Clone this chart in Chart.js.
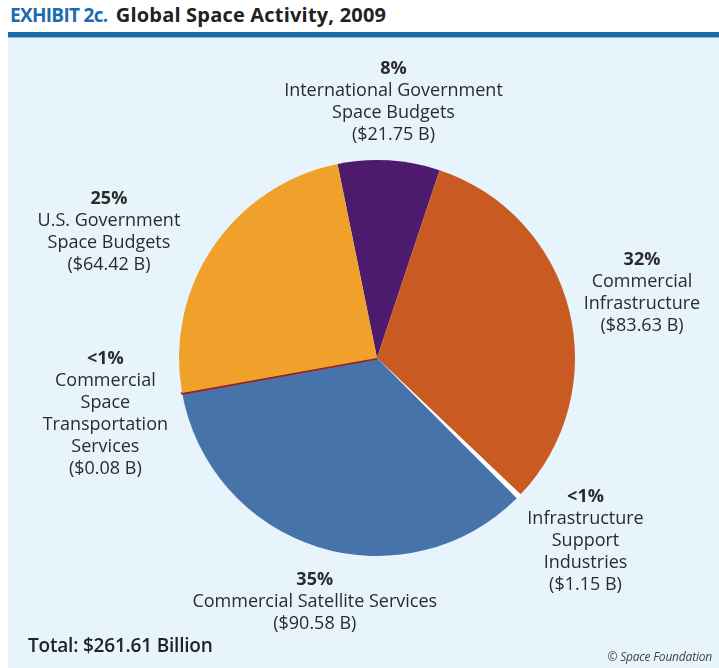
<!DOCTYPE html>
<html>
<head>
<meta charset="utf-8">
<script src="https://cdn.jsdelivr.net/npm/chart.js@4.4.1/dist/chart.umd.min.js"></script>
<style>
  html, body { margin: 0; padding: 0; background: #fff; }
  #wrap { position: relative; width: 719px; height: 668px; overflow: hidden; font-family: "Open Sans", sans-serif; }
  #panel { position: absolute; left: 8px; top: 38px; right: 0; bottom: 0; background: #e8f4fb; }
  #bar { position: absolute; left: 8px; top: 32px; right: 0; height: 5px; background: #1d6aa6; border-bottom: 1px solid #7fc3e6; }
  #title { position: absolute; left: 10px; top: 1px; font-size: 20px; font-weight: bold; color: #222; white-space: nowrap; }
  #title .ex { color: #1a6db3; letter-spacing: -0.7px; font-size: 19px; margin-right: 3px; }
  #title .main { letter-spacing: 0.2px; }
  #total { position: absolute; left: 28px; top: 632px; font-size: 19px; font-weight: 600; color: #222; letter-spacing: -0.2px; }
  #credit { position: absolute; right: 7px; top: 648px; font-size: 12px; font-style: italic; color: #444; letter-spacing: -0.2px; }
  canvas { position: absolute; left: 0; top: 0; }
</style>
</head>
<body>
<div id="wrap">
  <div id="panel"></div>
  <div id="bar"></div>
  <div id="title"><span class="ex">EXHIBIT 2c.</span> <span class="main">Global Space Activity, 2009</span></div>
  <canvas id="spacePie" width="719" height="668"></canvas>
  <div id="total">Total: $261.61 Billion</div>
  <div id="credit">© Space Foundation</div>
</div>
<script>
// segments, clockwise from the top
const segments = ['International Government Space Budgets', 'Commercial Infrastructure', 'Infrastructure Support Industries',
                  'Commercial Satellite Services', 'Commercial Space Transportation Services', 'U.S. Government Space Budgets'];
const billions = [21.75, 83.63, 1.15, 90.58, 0.08, 64.42];
const shares = ['8%', '32%', '<1%', '35%', '<1%', '25%'];
const nameLines = [
    ['International Government', 'Space Budgets'],
    ['Commercial', 'Infrastructure'],
    ['Infrastructure', 'Support', 'Industries'],
    ['Commercial Satellite Services'],
    ['Commercial', 'Space', 'Transportation', 'Services'],
    ['U.S. Government', 'Space Budgets']
];
const colors = ['#4e1a6c', '#c85a22', '#ffffff', '#4673aa', '#a31b1d', '#f0a12b'];

// how far past the rim each label block sits (px) and a small nudge after that
const labelGap = [58, 70, 78, 50, 78, 97];
const labelNudge = [[1, -1], [5, 0], [11, -10], [12, 7], [0, 7], [-24, 40]];

const lineH = 22;

const calloutPlugin = {
    id: 'callouts',
    afterDatasetsDraw(chart) {
        const ctx = chart.ctx;
        const arcs = chart.getDatasetMeta(0).data;
        ctx.save();
        ctx.textAlign = 'center';
        ctx.textBaseline = 'middle';
        ctx.fillStyle = '#2b2b2b';
        arcs.forEach((arc, i) => {
            const mid = (arc.startAngle + arc.endAngle) / 2;
            const d = arc.outerRadius + labelGap[i];
            const cx = arc.x + Math.cos(mid) * d + labelNudge[i][0];
            const cy = arc.y + Math.sin(mid) * d + labelNudge[i][1];
            const lines = [shares[i]].concat(nameLines[i], ['($' + billions[i].toFixed(2) + ' B)']);
            let y = cy - (lines.length - 1) * lineH / 2;
            lines.forEach((txt, k) => {
                ctx.font = (k === 0 ? 'bold 18px' : '18px') + ' "Open Sans", sans-serif';
                ctx.fillText(txt, cx, y);
                y += lineH;
            });
        });
        ctx.restore();
    }
};

new Chart(document.getElementById('spacePie'), {
    type: 'pie',
    data: {
        labels: segments,
        datasets: [{
            data: billions,
            backgroundColor: colors,
            // the transportation sliver is too thin to see without an outline
            borderColor: colors,
            borderWidth: [0, 0, 0, 0, 3, 0],
            offset: [0, 0, 3, 0, 0, 0]
        }]
    },
    options: {
        responsive: false,
        animation: false,
        rotation: -11.5,
        layout: { padding: { left: 176, right: 141, top: 157, bottom: 109 } },
        plugins: {
            legend: { display: false },
            tooltip: { enabled: false }
        }
    },
    plugins: [calloutPlugin]
});
</script>
</body>
</html>
